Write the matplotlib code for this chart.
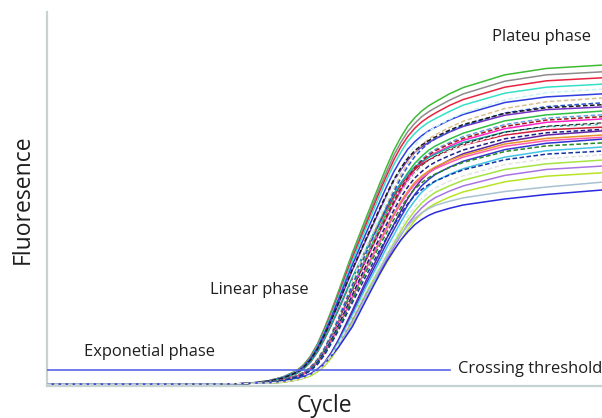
import matplotlib
matplotlib.use("Agg")
import matplotlib.pyplot as plt

# ---- data ----
cycles = [0, 12, 14, 15, 16, 17, 18, 18.5, 19, 19.5, 20, 20.5, 21, 22, 23, 24,
          24.5, 25, 25.5, 26, 26.5, 27, 27.5, 28, 29, 30, 33, 36, 40]

rfu_solid = [
    [5, 5, 6, 9, 14, 24, 41, 57, 80, 113, 155, 202, 252, 355, 450, 543, 588, 630, 665, 695, 717, 735, 749, 760, 781, 798, 832, 849, 858],
    [5, 5, 6, 9, 14, 24, 40, 55, 78, 111, 152, 198, 247, 348, 440, 532, 575, 617, 651, 680, 702, 720, 733, 744, 764, 781, 815, 832, 840],
    [5, 5, 6, 9, 14, 23, 40, 54, 77, 109, 149, 194, 242, 341, 432, 522, 564, 605, 639, 667, 689, 706, 719, 730, 750, 766, 799, 816, 824],
    [5, 5, 6, 9, 14, 23, 39, 53, 75, 107, 146, 190, 237, 334, 423, 511, 553, 592, 625, 654, 675, 692, 705, 715, 734, 751, 783, 799, 807],
    [5, 5, 6, 8, 13, 22, 37, 52, 73, 103, 141, 184, 230, 323, 409, 494, 535, 573, 605, 633, 653, 669, 682, 692, 711, 726, 758, 773, 781],
    [5, 5, 6, 8, 13, 21, 36, 49, 69, 98, 135, 176, 219, 309, 391, 472, 511, 548, 578, 604, 624, 639, 651, 661, 679, 694, 724, 739, 746],
    [5, 5, 6, 8, 10, 16, 26, 35, 49, 68, 97, 133, 173, 260, 345, 426, 465, 503, 539, 570, 595, 614, 630, 642, 660, 676, 709, 725, 735],
    [5, 5, 6, 8, 10, 16, 26, 34, 47, 66, 94, 129, 169, 253, 336, 414, 452, 489, 524, 553, 578, 597, 612, 623, 641, 657, 688, 705, 714],
    [5, 5, 6, 8, 12, 19, 33, 46, 64, 91, 125, 163, 203, 286, 363, 438, 474, 508, 536, 561, 579, 593, 604, 613, 630, 644, 671, 685, 692],
    [5, 5, 6, 8, 12, 20, 34, 46, 65, 92, 127, 165, 206, 290, 367, 443, 480, 514, 543, 567, 585, 600, 611, 620, 637, 651, 679, 693, 700],
    [5, 5, 6, 8, 8, 12, 19, 25, 33, 45, 63, 90, 123, 201, 282, 357, 396, 432, 467, 501, 529, 552, 570, 584, 604, 621, 653, 671, 682],
    [5, 5, 6, 8, 10, 15, 24, 32, 44, 62, 89, 121, 158, 238, 315, 389, 425, 460, 493, 520, 544, 561, 575, 586, 603, 617, 647, 662, 671],
    [5, 5, 6, 8, 10, 15, 24, 32, 44, 62, 88, 120, 157, 235, 313, 386, 421, 456, 488, 515, 539, 556, 570, 581, 597, 612, 641, 656, 665],
    [5, 5, 6, 8, 8, 11, 18, 24, 32, 44, 61, 87, 119, 194, 273, 346, 383, 418, 452, 484, 512, 535, 552, 566, 585, 601, 632, 649, 660],
    [5, 5, 6, 8, 8, 11, 18, 23, 31, 42, 59, 84, 116, 188, 265, 335, 371, 404, 438, 469, 495, 518, 534, 548, 566, 581, 612, 629, 639],
    [5, 5, 6, 8, 8, 10, 17, 22, 29, 40, 56, 80, 109, 178, 250, 316, 350, 382, 414, 443, 468, 489, 505, 518, 535, 550, 579, 594, 604],
    [5, 5, 6, 8, 8, 10, 16, 21, 28, 39, 55, 78, 106, 173, 243, 308, 341, 372, 403, 432, 456, 476, 492, 504, 521, 535, 563, 579, 588],
    [5, 5, 6, 8, 8, 10, 16, 21, 27, 38, 53, 75, 103, 168, 236, 299, 331, 361, 390, 418, 442, 462, 477, 488, 505, 519, 546, 561, 570],
    [5, 5, 6, 8, 9, 14, 21, 26, 33, 46, 62, 83, 107, 164, 239, 313, 347, 378, 406, 428, 448, 463, 474, 483, 494, 503, 520, 532, 545],
    [5, 5, 6, 8, 9, 13, 20, 25, 32, 44, 60, 80, 103, 158, 230, 301, 334, 363, 390, 412, 431, 445, 456, 464, 475, 484, 500, 512, 524],
]
solid_colors = [
    "#3dbb35", "#8c8c8c", "#e8243e", "#36e0c8", "#2e3ee0", "#7432c4",
    "#2fc045", "#ff22c4", "#d0203e", "#1aa8a0", "#5e22a2", "#e8962a",
    "#ff5ab4", "#3434d4", "#44c4e6", "#a4e444", "#a874e4", "#b8e424",
    "#a8c2d2", "#2a2ae0",
]

rfu_dashed = [
    [5, 5, 6, 8, 10, 17, 29, 38, 52, 74, 105, 144, 187, 281, 373, 461, 503, 544, 583, 615, 643, 664, 680, 693, 713, 730, 765, 784, 794],
    [5, 5, 6, 8, 10, 17, 28, 37, 51, 72, 102, 139, 182, 273, 362, 447, 487, 527, 565, 597, 624, 644, 660, 672, 691, 708, 742, 760, 770],
    [5, 5, 6, 8, 10, 17, 27, 36, 50, 70, 100, 137, 179, 268, 356, 439, 479, 519, 556, 587, 613, 633, 649, 661, 680, 696, 730, 747, 757],
    [5, 5, 6, 8, 13, 21, 36, 50, 70, 99, 136, 177, 221, 311, 394, 476, 515, 552, 583, 609, 629, 644, 656, 666, 684, 699, 729, 744, 752],
    [5, 5, 6, 8, 10, 16, 26, 35, 48, 67, 96, 131, 171, 257, 341, 421, 459, 497, 532, 562, 587, 606, 621, 633, 651, 667, 699, 716, 725],
    [5, 5, 6, 8, 10, 16, 26, 35, 48, 67, 95, 130, 170, 255, 338, 418, 456, 493, 528, 558, 583, 602, 617, 629, 647, 662, 694, 711, 720],
    [5, 5, 6, 8, 10, 15, 25, 34, 46, 65, 93, 127, 166, 249, 330, 408, 445, 482, 516, 545, 569, 588, 602, 614, 631, 647, 678, 694, 703],
    [5, 5, 6, 8, 10, 15, 25, 34, 46, 65, 92, 127, 165, 248, 329, 406, 443, 480, 514, 543, 567, 585, 600, 611, 629, 644, 675, 691, 700],
    [5, 5, 6, 8, 10, 15, 25, 33, 45, 64, 91, 124, 162, 243, 322, 398, 434, 470, 504, 532, 556, 573, 588, 599, 616, 631, 661, 677, 686],
    [5, 5, 6, 8, 10, 14, 23, 31, 43, 60, 86, 118, 153, 230, 306, 377, 411, 445, 477, 504, 527, 543, 557, 567, 584, 598, 627, 642, 650],
    [5, 5, 6, 8, 10, 14, 23, 30, 41, 58, 83, 114, 148, 222, 295, 364, 398, 430, 461, 487, 509, 525, 538, 548, 564, 578, 605, 620, 628],
    [5, 5, 6, 8, 8, 11, 17, 22, 30, 41, 57, 82, 112, 182, 256, 324, 358, 391, 423, 454, 479, 501, 517, 530, 548, 562, 592, 608, 618],
]
dashed_colors = [
    "#c8f4f4", "#d8c090", "#2456d4", "#1c1c1c", "#64a4e4", "#a01818",
    "#202020", "#f4f4f4", "#20208a", "#228a22", "#1434a4", "#e4e4e4",
]

threshold = 43
threshold_end = 29.05

annotations = [
    ("Plateu phase", 32.1, 933),
    ("Linear phase", 11.75, 257),
    ("Exponetial phase", 2.67, 91),
    ("Crossing threshold", 29.6, 46),
]

# ---- figure ----
fig = plt.figure(figsize=(6.02, 4.18), dpi=100)
ax = fig.add_axes([0.078, 0.0766, 0.922, 0.8947])
ax.set_xlim(0, 40)
ax.set_ylim(0, 1000)

for vals, col in zip(rfu_solid, solid_colors):
    ax.plot(cycles, vals, color=col, lw=1.1, solid_joinstyle="round", zorder=2)
for vals, col in zip(rfu_dashed, dashed_colors):
    ax.plot(cycles, vals, color=col, lw=1.1, linestyle=(0, (3, 1.6)), zorder=3)

ax.plot([0, threshold_end], [threshold, threshold], color="#5865e6", lw=1.2, zorder=4)

font = "Open Sans"
for txt, x, y in annotations:
    ax.text(x, y, txt, ha="left", va="center", fontsize=11.9, family=font,
            color="#1e1e1e", clip_on=False)

ax.set_xlabel("Cycle", fontsize=16.5, family=font, color="#1e1e1e", labelpad=6)
ax.set_ylabel("Fluoresence", fontsize=16.5, family=font, color="#1e1e1e", labelpad=9)

for s in ("top", "right"):
    ax.spines[s].set_visible(False)
for s in ("left", "bottom"):
    ax.spines[s].set_color("#c5d3d3")
    ax.spines[s].set_linewidth(1.6)
ax.set_xticks([])
ax.set_yticks([])

fig.savefig("out.png", dpi=100)
